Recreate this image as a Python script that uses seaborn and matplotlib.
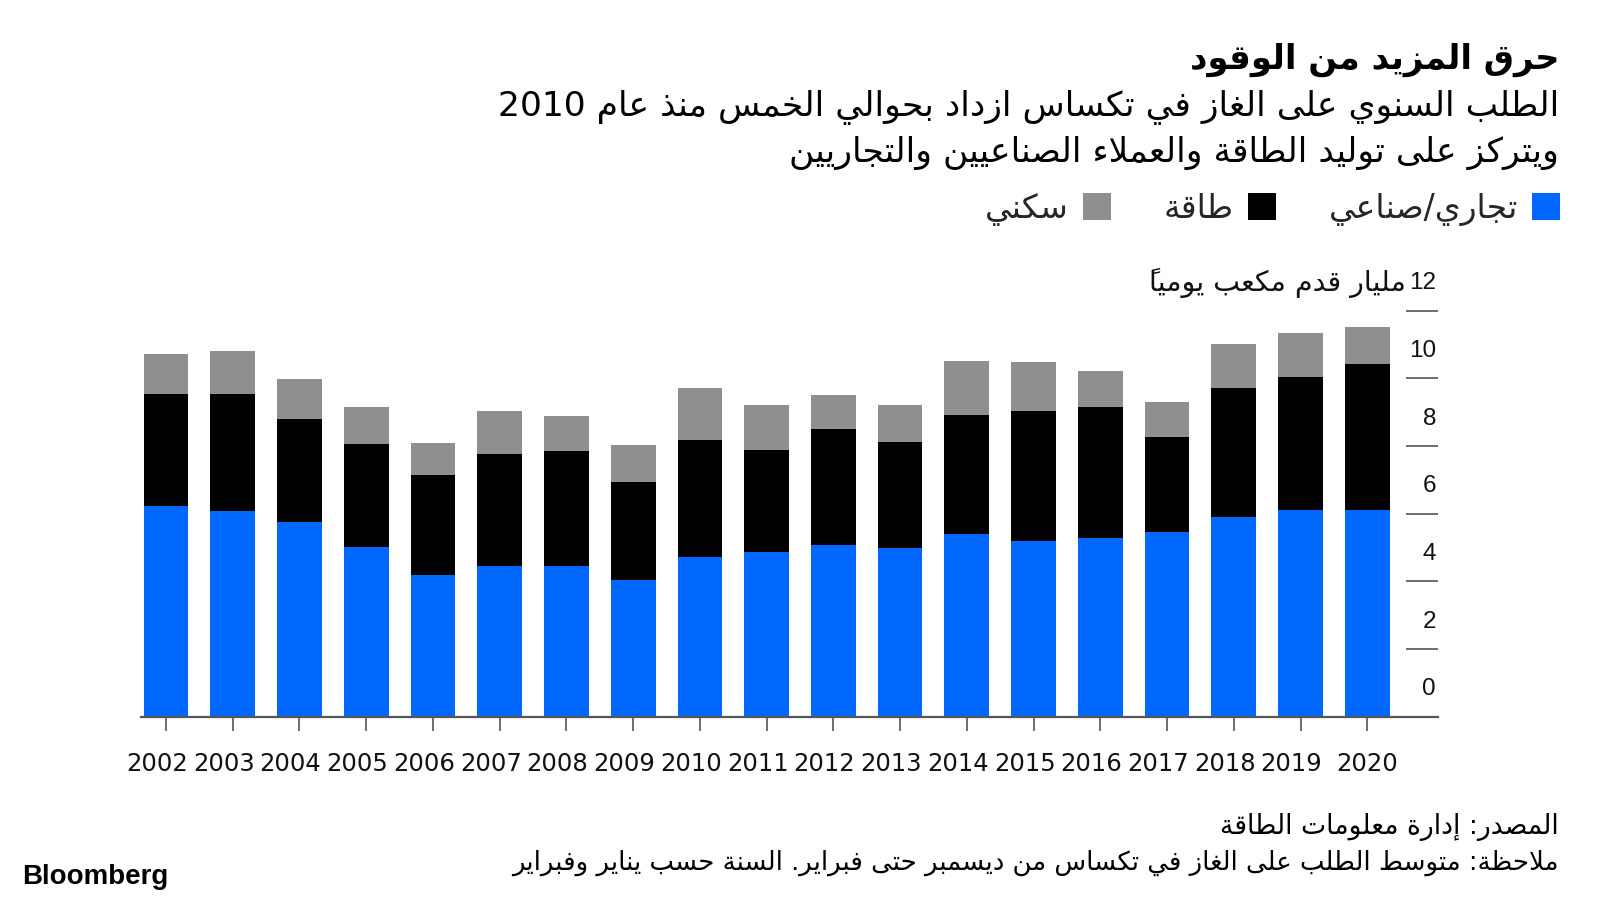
import numpy as np
import pandas as pd
import matplotlib
matplotlib.use("Agg")
import matplotlib.pyplot as plt
import matplotlib.transforms as mtransforms
from matplotlib.patches import Patch
import seaborn as sns

# ---------------- data ----------------
years = [2002, 2003, 2004, 2005, 2006, 2007, 2008, 2009, 2010, 2011,
         2012, 2013, 2014, 2015, 2016, 2017, 2018, 2019, 2020]
commercial = [6.23, 6.08, 5.75, 5.00, 4.19, 4.46, 4.46, 4.04, 4.70, 4.85,
              5.06, 4.97, 5.39, 5.18, 5.27, 5.45, 5.89, 6.10, 6.09]
power = [3.29, 3.44, 3.05, 3.04, 2.95, 3.31, 3.40, 2.89, 3.46, 3.04,
         3.43, 3.13, 3.53, 3.86, 3.89, 2.81, 3.81, 3.93, 4.32]
residential = [1.20, 1.29, 1.17, 1.12, 0.93, 1.27, 1.03, 1.08, 1.54, 1.33,
               1.00, 1.12, 1.59, 1.44, 1.05, 1.03, 1.30, 1.31, 1.11]
y_ticks = [0, 2, 4, 6, 8, 10, 12]

series_labels = ["تجاري/صناعي", "طاقة", "سكني"]
title = "حرق المزيد من الوقود"
subtitle_1 = "الطلب السنوي على الغاز في تكساس ازداد بحوالي الخمس منذ عام 2010"
subtitle_2 = "ويتركز على توليد الطاقة والعملاء الصناعيين والتجاريين"
unit_label = "مليار قدم مكعب يومياً"
source = "المصدر: إدارة معلومات الطاقة"
note = "ملاحظة: متوسط الطلب على الغاز في تكساس من ديسمبر حتى فبراير. السنة حسب يناير وفبراير"
brand = "Bloomberg"

BLUE = "#0068ff"
BLACK = "#000000"
GRAY = "#8f8f8f"
AXIS = "#555555"

# ---------------- minimal Arabic shaping + RTL ordering ----------------
_AR = {
    '\u0621': (0xFE80, 'U'), '\u0622': (0xFE81, 'R'), '\u0623': (0xFE83, 'R'),
    '\u0624': (0xFE85, 'R'), '\u0625': (0xFE87, 'R'), '\u0626': (0xFE89, 'D'),
    '\u0627': (0xFE8D, 'R'), '\u0628': (0xFE8F, 'D'), '\u0629': (0xFE93, 'R'),
    '\u062A': (0xFE95, 'D'), '\u062B': (0xFE99, 'D'), '\u062C': (0xFE9D, 'D'),
    '\u062D': (0xFEA1, 'D'), '\u062E': (0xFEA5, 'D'), '\u062F': (0xFEA9, 'R'),
    '\u0630': (0xFEAB, 'R'), '\u0631': (0xFEAD, 'R'), '\u0632': (0xFEAF, 'R'),
    '\u0633': (0xFEB1, 'D'), '\u0634': (0xFEB5, 'D'), '\u0635': (0xFEB9, 'D'),
    '\u0636': (0xFEBD, 'D'), '\u0637': (0xFEC1, 'D'), '\u0638': (0xFEC5, 'D'),
    '\u0639': (0xFEC9, 'D'), '\u063A': (0xFECD, 'D'), '\u0641': (0xFED1, 'D'),
    '\u0642': (0xFED5, 'D'), '\u0643': (0xFED9, 'D'), '\u0644': (0xFEDD, 'D'),
    '\u0645': (0xFEE1, 'D'), '\u0646': (0xFEE5, 'D'), '\u0647': (0xFEE9, 'D'),
    '\u0648': (0xFEED, 'R'), '\u0649': (0xFEEF, 'R'), '\u064A': (0xFEF1, 'D'),
}
_LAM_ALEF = {'\u0622': 0xFEF5, '\u0623': 0xFEF7, '\u0625': 0xFEF9, '\u0627': 0xFEFB}


def ar(text):
    units = []  # [char, joining type, base glyph, marks]
    for c in text:
        if '\u064B' <= c <= '\u0652' and units:
            units[-1][3] += c
            continue
        if c in _AR:
            base, jt = _AR[c]
            if c in _LAM_ALEF and units and units[-1][0] == '\u0644' and not units[-1][3]:
                units[-1] = ['LA', 'R', _LAM_ALEF[c], '']
                continue
            units.append([c, jt, base, ''])
        else:
            units.append([c, None, None, ''])
    items = []
    n = len(units)
    for i, (c, jt, base, marks) in enumerate(units):
        if jt is None:
            items.append((c + marks, c.isascii() and c.isalnum()))
            continue
        prev_ok = i > 0 and units[i - 1][1] == 'D' and jt in ('R', 'D')
        next_ok = i < n - 1 and jt == 'D' and units[i + 1][1] in ('R', 'D')
        if jt == 'U':
            g = base
        elif prev_ok and next_ok:
            g = base + 3
        elif prev_ok:
            g = base + 1
        elif next_ok:
            g = base + 2
        else:
            g = base
        items.append((marks + chr(g), False))
    runs = []
    for g, ltr in items:
        if runs and runs[-1][0] == ltr:
            runs[-1][1].append(g)
        else:
            runs.append([ltr, [g]])
    out = []
    for ltr, gs in reversed(runs):
        out.append(''.join(gs) if ltr else ''.join(reversed(gs)))
    return ''.join(out)


# ---------------- figure ----------------
sns.set_theme(style="white")
plt.rcParams['font.family'] = ['DejaVu Sans']
NUMFONT = ['Liberation Sans', 'DejaVu Sans']

W, H = 1600, 900
fig = plt.figure(figsize=(16, 9), dpi=100)
ax = fig.add_axes([141 / W, 1 - 716.5 / H, (1438 - 141) / W, 406 / H])

df = pd.DataFrame({
    "year": [str(y) for y in years],
    "commercial": commercial,
    "power": power,
    "residential": residential,
})
df["c_p"] = df["commercial"] + df["power"]
df["total"] = df["c_p"] + df["residential"]

for col, colr in [("total", GRAY), ("c_p", BLACK), ("commercial", BLUE)]:
    sns.barplot(data=df, x="year", y=col, color=colr, width=0.67, saturation=1,
                errorbar=None, linewidth=0, ax=ax)

ax.set_xlim(-0.375, 19.06)
ax.set_ylim(0, 12)
ax.set_xlabel("")
ax.set_ylabel("")
for s in ["left", "top", "right"]:
    ax.spines[s].set_visible(False)
ax.spines["bottom"].set_color(AXIS)
ax.spines["bottom"].set_linewidth(1.6)
ax.grid(False)

ax.tick_params(axis="x", direction="out", length=10, width=1.2, color=AXIS,
               pad=15.5, labelsize=17.5, labelcolor="#111111", bottom=True)
shift = mtransforms.ScaledTranslation(-9 / 100, 0, fig.dpi_scale_trans)
for lab in ax.get_xticklabels()[:-1]:
    lab.set_transform(lab.get_transform() + shift)

ax.yaxis.tick_right()
ax.set_yticks(y_ticks)
ax.tick_params(axis="y", direction="in", length=23, width=1.2, color=AXIS,
               labelright=False, labelleft=False, right=True, left=False)

blend = mtransforms.blended_transform_factory(ax.transAxes, ax.transData)
for v in y_ticks:
    ax.text(0.9985, v + 0.8, str(v), transform=blend, ha="right", va="center",
            fontsize=17.5, color="#111111", clip_on=False, family=NUMFONT)
ax.annotate(ar(unit_label), xy=(1.0, y_ticks[-1] + 0.8), xycoords=blend,
            xytext=(-23, 0), textcoords="offset points", ha="right",
            va="center", fontsize=20.5, color="#111111", annotation_clip=False)

# ---------------- texts ----------------
RX = 1559 / W
fig.text(RX, 1 - 60 / H, ar(title), ha="right", va="center", fontsize=24.4,
         fontweight="bold", color="#000000")
fig.text(RX, 1 - 107 / H, ar(subtitle_1), ha="right", va="center", fontsize=24.8,
         color="#000000")
fig.text(RX, 1 - 153 / H, ar(subtitle_2), ha="right", va="center", fontsize=24.8,
         color="#000000")

handles = [Patch(facecolor=GRAY, edgecolor="none"),
           Patch(facecolor=BLACK, edgecolor="none"),
           Patch(facecolor=BLUE, edgecolor="none")]
labels = [ar(series_labels[2]), ar(series_labels[1]), ar(series_labels[0])]
fig.legend(handles, labels, ncol=3, markerfirst=False, loc="center right",
           bbox_to_anchor=(1560 / W, 1 - 209 / H), frameon=False, fontsize=23.8,
           handlelength=0.85, handleheight=0.85, handletextpad=0.42,
           columnspacing=1.6, borderaxespad=0, borderpad=0)

fig.text(RX, 1 - 827 / H, ar(source), ha="right", va="center", fontsize=19.2,
         color="#000000")
fig.text(RX, 1 - 863 / H, ar(note), ha="right", va="center", fontsize=18.7,
         color="#000000")
fig.text(22 / W, 1 - 877 / H, brand, ha="left", va="center", fontsize=20,
         fontweight="bold", color="#000000", family=NUMFONT)

fig.savefig("out.png", dpi=100)
